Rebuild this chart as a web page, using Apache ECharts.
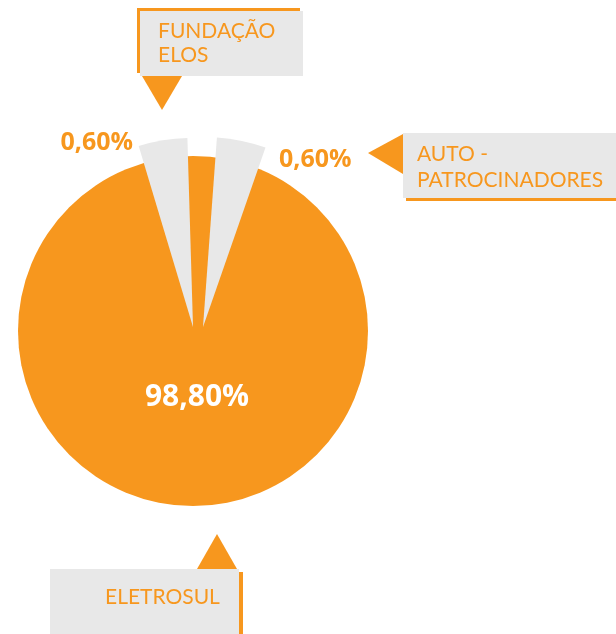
<!DOCTYPE html>
<html>
<head>
<meta charset="utf-8">
<script src="https://cdn.jsdelivr.net/npm/echarts@6/dist/echarts.min.js"></script>
<style>
  html, body { margin: 0; padding: 0; background: #fff; }
  #chart { width: 616px; height: 634px; }
</style>
</head>
<body>
<div id="chart"></div>
<script>
// participação de cada patrocinador
var names = ['FUNDAÇÃO\nELOS', 'AUTO -\nPATROCINADORES', 'ELETROSUL']
var shares = [0.6, 0.6, 98.8]

var orange = '#f7971e'
var grey = '#e8e8e8'
var sliceColors = [grey, grey, orange]

function pct(v) {
  return v.toFixed(2).replace('.', ',') + '%'
}

// one exploded wedge drawn over the base circle
function wedge(idx, center, radius, startAngle, labelAt, align) {
  return {
    type: 'pie',
    silent: true,
    z: 3,
    center: center,
    radius: radius,
    startAngle: startAngle,
    minAngle: 15,
    clockwise: true,
    itemStyle: { borderWidth: 0 },
    data: shares.map(function(v, i) {
      return {
        name: names[i],
        value: v,
        itemStyle: { color: i === idx ? sliceColors[i] : 'rgba(0,0,0,0)' },
        label: { show: i === idx }
      }
    }),
    label: {
      position: 'outside',
      formatter: function(p) { return pct(p.value) },
      color: orange,
      fontFamily: 'Open Sans',
      fontWeight: 'bold',
      fontSize: 25
    },
    labelLine: { show: false },
    labelLayout: { x: labelAt[0], y: labelAt[1], align: align, verticalAlign: 'middle' }
  }
}

function callout(text, box, tri, textAt, lineHeight, shadow) {
  return {
    type: 'group',
    children: [
      { type: 'rect', shape: { x: box[0] + shadow[0], y: box[1] + shadow[1], width: box[2], height: box[3] }, style: { fill: orange }},
      { type: 'rect', shape: { x: box[0], y: box[1], width: box[2], height: box[3] }, style: { fill: grey }},
      { type: 'polygon', shape: { points: tri }, style: { fill: orange }},
      {
        type: 'text',
        x: textAt[0],
        y: textAt[1],
        style: {
          text: text,
          fill: orange,
          fontFamily: 'Lato',
          fontSize: 21,
          lineHeight: lineHeight,
          verticalAlign: 'top'
        }
      }
    ]
  }
}

var chart = echarts.init(document.getElementById('chart'))
chart.setOption({
  animation: false,
  series: [
    {
      type: 'pie',
      silent: true,
      z: 2,
      center: [193, 331],
      radius: 175,
      itemStyle: { borderWidth: 0 },
      data: [{ name: names[2], value: shares[2], itemStyle: { color: sliceColors[2] } }],
      label: {
        position: 'inside',
        formatter: function(p) { return pct(p.value) },
        color: '#fff',
        fontFamily: 'Open Sans',
        fontWeight: 'bold',
        fontSize: 30
      },
      labelLayout: { x: 197, y: 397, align: 'center', verticalAlign: 'middle' }
    },
    wedge(0, [193, 327], 189, 106.7, [133, 143], 'right'),
    wedge(1, [203, 327], 190, 100.8, [279, 160], 'left')
  ],
  graphic: [
    callout(names[0], [140, 11, 163, 65], [[142, 76], [182, 76], [162, 110]], [158, 19], 24, [-3, -3]),
    callout(names[1], [403, 133, 220, 65], [[368, 153], [403, 134], [403, 174]], [417, 141], 26, [3, 3]),
    callout(names[2], [50, 569, 189, 70], [[217, 534], [197, 569], [237, 569]], [105, 585], 24, [4, 3])
  ]
})
</script>
</body>
</html>
